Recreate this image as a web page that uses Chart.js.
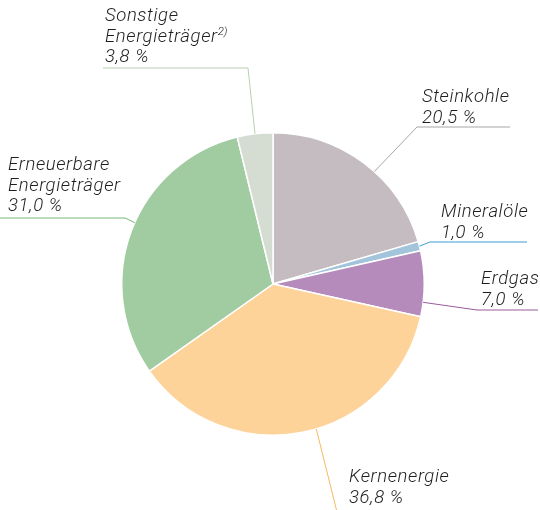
<!DOCTYPE html>
<html><head><meta charset="utf-8">
<script src="https://cdn.jsdelivr.net/npm/chart.js@4/dist/chart.umd.min.js"></script>
<style>html,body{margin:0;padding:0;background:#fff}</style>
</head><body>
<canvas id="c" width="540" height="510"></canvas>
<script>
const categories = ["Steinkohle","Mineralöle","Erdgas","Kernenergie","Erneuerbare Energieträger","Sonstige Energieträger"];
const values = [20.5, 1.0, 7.0, 36.8, 31.0, 3.8];
const valueLabels = ["20,5 %","1,0 %","7,0 %","36,8 %","31,0 %","3,8 %"];
const nameLines = [["Steinkohle"],["Mineralöle"],["Erdgas"],["Kernenergie"],["Erneuerbare","Energieträger"],["Sonstige","Energieträger"]];
const sliceColors = ["#c4bcc1","#a3c5db","#b48bbb","#fdd39a","#a1cba1","#d5ddd2"];
const lineColors = ["#a9a4a7","#3a9fcf","#9b5a9f","#f6b864","#74b874","#b9cfb3"];

// label layout: text x, first baseline, elbow point, horizontal end x, anchor fraction within slice
const labelLayout = [
  {tx:422, ty:102, ex:417, ey:127, hx:510, f:0.57},
  {tx:441, ty:217, ex:430, ey:242, hx:527, f:0.5},
  {tx:481, ty:284, ex:477, ey:310, hx:538, f:0.78},
  {tx:349, ty:482, ex:337, ey:512, hx:null, f:0.46},
  {tx:8,   ty:170, ex:125, ey:218, hx:0, f:0.53},
  {tx:105, ty:21,  ex:248, ey:68,  hx:103, f:0.5, sup:"2)"}
];

const FONT = 'italic 300 18.5px Roboto, "Liberation Sans", sans-serif';
const LH = 20.5;

const labelPlugin = {
  id:'labels',
  afterDatasetsDraw(chart){
    const ctx = chart.ctx;
    const meta = chart.getDatasetMeta(0);
    meta.data.forEach((arc, i) => {
      const L = labelLayout[i];
      const a = arc.startAngle + (arc.endAngle - arc.startAngle) * L.f;
      const r = arc.outerRadius;
      const ax = arc.x + Math.cos(a) * r;
      const ay = arc.y + Math.sin(a) * r;
      ctx.save();
      ctx.strokeStyle = lineColors[i];
      ctx.lineWidth = 1;
      ctx.beginPath();
      ctx.moveTo(ax, ay);
      ctx.lineTo(L.ex, L.ey);
      if (L.hx !== null) ctx.lineTo(L.hx, L.ey);
      ctx.stroke();
      ctx.fillStyle = "#1e1e1e";
      ctx.textBaseline = "alphabetic";
      ctx.textAlign = "left";
      const lines = nameLines[i].concat([valueLabels[i]]);
      lines.forEach((t, k) => {
        const y = L.ty + k * LH;
        ctx.font = FONT;
        ctx.letterSpacing = "0.6px";
        ctx.fillText(t, L.tx, y);
        if (L.sup && k === nameLines[i].length - 1) {
          const w = ctx.measureText(t).width;
          ctx.font = 'italic 300 11.5px Roboto, "Liberation Sans", sans-serif';
          ctx.letterSpacing = "0px";
          ctx.fillText(L.sup, L.tx + w, y - 7);
        }
      });
      ctx.restore();
    });
  }
};

new Chart(document.getElementById('c'), {
  type: 'pie',
  data: {
    labels: categories,
    datasets: [{
      data: values,
      backgroundColor: sliceColors,
      borderColor: '#ffffff',
      borderWidth: 1.5,
      hoverOffset: 0
    }]
  },
  options: {
    responsive: false,
    animation: false,
    layout: { padding: { left: 121, right: 115, top: 132, bottom: 74 } },
    plugins: { legend: { display: false }, tooltip: { enabled: false } }
  },
  plugins: [labelPlugin]
});
</script>
</body></html>
